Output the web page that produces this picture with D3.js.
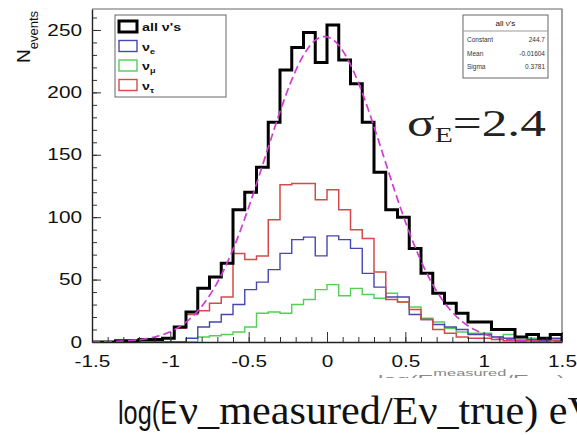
<!DOCTYPE html>
<html>
<head>
<meta charset="utf-8">
<script src="https://cdn.jsdelivr.net/npm/d3@7"></script>
<style>
  body { margin: 0; background: #fff; }
  svg { display: block; }
  text { font-family: "Liberation Sans", Arial, sans-serif; fill: #111; }
  text.serif { font-family: "Liberation Serif", "Times New Roman", serif; }
</style>
</head>
<body>
<svg width="577" height="435"></svg>
<script>
// histogram binning (40 bins of 0.075 from -1.5)
var binStart = -1.5, binWidth = 0.075;

var allNu = [0, 0, 1, 1, 2, 2, 3, 12, 24, 43, 52, 63, 106, 120, 140, 176, 218, 236, 248, 224,
  254, 226, 207, 176, 136, 106, 100, 75, 55, 39, 31, 23, 16, 16, 10, 10, 4, 6, 3, 6];
var nuE = [0, 0, 0, 0, 0, 0, 0, 0, 3, 12, 16, 22, 30, 42, 48, 58, 71, 82, 84, 69,
  85, 82, 75, 55, 44, 36, 36, 22, 18, 14, 12, 10, 6, 6, 4, 3, 1, 2, 1, 3];
var nuMu = [0, 0, 0, 0, 0, 0, 0, 0, 0, 4, 5, 6, 8, 12, 23, 24, 23, 30, 34, 42,
  46, 37, 43, 38, 35, 39, 32, 28, 19, 16, 11, 8, 7, 7, 4, 6, 2, 3, 2, 2];
var nuTau = [0, 0, 1, 1, 2, 2, 3, 11, 22, 25, 31, 36, 71, 66, 69, 98, 126, 127, 127, 114,
  122, 106, 90, 83, 56, 34, 32, 26, 18, 10, 7, 4, 3, 3, 2, 1, 1, 1, 0, 1];

// gaussian fit shown in the stats box
var fitConstant = 244.7, fitMean = -0.01604, fitSigma = 0.3781;

var xTicks = [-1.5, -1, -0.5, 0, 0.5, 1, 1.5];
var yTicks = [0, 50, 100, 150, 200, 250];

var svg = d3.select("svg"),
  marginLeft = 92, marginTop = 9,
  width = 470, height = 333,
  sx = 1.3; // the picture is stretched sideways

var x = d3.scaleLinear().domain([-1.5, 1.5]).range([0, width]);
var y = d3.scaleLinear().domain([0, 266.8]).range([height, 0]);

var g = svg.append("g").attr("transform", "translate(" + marginLeft + "," + marginTop + ")");

g.append("clipPath").attr("id", "plot")
  .append("rect").attr("width", width).attr("height", height);

// frame
g.append("path")
  .attr("d", "M0,0H" + width + "V" + height)
  .attr("fill", "none").attr("stroke", "#666").attr("stroke-width", 1.2);

// histograms as step lines
function steps(values) {
  var pts = [[binStart, 0]];
  values.forEach(function (v, i) { pts.push([binStart + i * binWidth, v]); });
  pts.push([binStart + values.length * binWidth, values[values.length - 1]]);
  pts.push([binStart + values.length * binWidth, 0]);
  return pts;
}
var step = d3.line()
  .x(function (d) { return x(d[0]); })
  .y(function (d) { return y(d[1]); })
  .curve(d3.curveStepAfter);

var series = [
  { v: nuMu, c: "#52d052", w: 1.4 },
  { v: nuE, c: "#4646b4", w: 1.4 },
  { v: nuTau, c: "#d44a4a", w: 1.5 },
  { v: allNu, c: "#000", w: 3 }
];
var hist = g.append("g").attr("clip-path", "url(#plot)");
series.forEach(function (s) {
  hist.append("path")
    .attr("d", step(steps(s.v)))
    .attr("fill", "none")
    .attr("stroke", s.c)
    .attr("stroke-width", s.w);
});

// fit curve
var fitX = d3.range(-1.5, 1.5001, 0.01);
hist.append("path")
  .attr("d", d3.line()
    .x(function (d) { return x(d); })
    .y(function (d) {
      return y(fitConstant * Math.exp(-0.5 * Math.pow((d - fitMean) / fitSigma, 2)));
    })(fitX))
  .attr("fill", "none")
  .attr("stroke", "#d03cd0")
  .attr("stroke-width", 1.7)
  .attr("stroke-dasharray", "8,4");

// axes
var xMinor = d3.range(-15, 16).map(function (d) { return d / 10; });
var yMinor = d3.range(0, 261, 10);

g.append("g").attr("transform", "translate(0," + height + ")")
  .call(d3.axisBottom(x).tickValues(xMinor).tickSize(-5).tickSizeOuter(0).tickFormat(""))
  .call(function (a) { a.select(".domain").remove(); });
g.append("g").attr("transform", "translate(0," + height + ")")
  .call(d3.axisBottom(x).tickValues(xTicks).tickSize(-10).tickSizeOuter(0).tickPadding(14)
    .tickFormat(function (d) { return d; }))
  .call(function (a) {
    a.select(".domain").attr("stroke", "#222").attr("stroke-width", 1.4);
    a.selectAll(".tick text")
      .attr("font-size", 16)
      .attr("transform", "scale(" + sx + ",1)");
  });

g.append("g")
  .call(d3.axisLeft(y).tickValues(yMinor).tickSize(-5).tickSizeOuter(0).tickFormat(""))
  .call(function (a) { a.select(".domain").remove(); });
g.append("g")
  .call(d3.axisLeft(y).tickValues(yTicks).tickSize(-9).tickSizeOuter(0).tickPadding(10))
  .call(function (a) {
    a.select(".domain").attr("stroke", "#222").attr("stroke-width", 1.4);
    a.selectAll(".tick text")
      .attr("font-size", 16)
      .attr("x", -10 / sx)
      .attr("transform", "scale(" + sx + ",1)");
  });
g.selectAll(".tick line").attr("stroke", "#333");
g.selectAll(".tick text").style("fill", "#111");

// y title
var yt = svg.append("text")
  .attr("transform", "translate(30,63) rotate(-90)")
  .attr("font-size", 19);
yt.append("tspan").text("N");
yt.append("tspan").attr("font-size", 13).attr("dy", 8).text("events");

// legend
var lg = svg.append("g").attr("transform", "translate(115,15)");
lg.append("rect").attr("width", 111).attr("height", 82)
  .attr("fill", "#fff").attr("stroke", "#666").attr("stroke-width", 1);
var legendItems = [
  { name: "all ν's", sub: "", c: "#000", w: 3 },
  { name: "ν", sub: "e", c: "#4646b4", w: 1.4 },
  { name: "ν", sub: "μ", c: "#52d052", w: 1.4 },
  { name: "ν", sub: "τ", c: "#d44a4a", w: 1.4 }
];
legendItems.forEach(function (d, i) {
  var yy = 6 + i * 19.5;
  lg.append("rect").attr("x", 4).attr("y", yy).attr("width", 18).attr("height", 11)
    .attr("fill", "#fff").attr("stroke", d.c).attr("stroke-width", d.w);
  var t = lg.append("text")
    .attr("transform", "translate(27," + (yy + 10) + ") scale(" + sx + ",1)")
    .attr("font-size", 11).attr("font-weight", "bold").text(d.name);
  if (d.sub) t.append("tspan").attr("font-size", 7).attr("dy", 3).text(d.sub);
});

// stats box
var sb = svg.append("g").attr("transform", "translate(463,15)");
sb.append("rect").attr("width", 85).attr("height", 63)
  .attr("fill", "#fff").attr("stroke", "#666").attr("stroke-width", 1);
sb.append("line").attr("x1", 0).attr("x2", 85).attr("y1", 16).attr("y2", 16)
  .attr("stroke", "#999");
sb.append("text").attr("x", 42.5).attr("y", 11).attr("text-anchor", "middle")
  .attr("font-size", 8).text("all ν's");
var stats = [["Constant", fitConstant.toFixed(1)], ["Mean", fitMean.toString()],
  ["Sigma", fitSigma.toString()]];
stats.forEach(function (d, i) {
  var yy = 27 + i * 13.5;
  sb.append("text").attr("x", 4).attr("y", yy).attr("font-size", 6.5).style("fill", "#333").text(d[0]);
  sb.append("text").attr("x", 82).attr("y", yy).attr("font-size", 6.5).style("fill", "#333")
    .attr("text-anchor", "end").text(d[1]);
});

// resolution annotation
var sg = svg.append("text").attr("class", "serif")
  .attr("transform", "translate(407,136) scale(1.35,1)")
  .attr("font-size", 38).style("fill", "#222");
sg.append("tspan").text("σ");
sg.append("tspan").attr("font-size", 22).attr("dy", 6).text("E");
sg.append("tspan").attr("dy", -6).text("=2.4");

// original axis title, only its top edge peeks out above the big one
svg.append("clipPath").attr("id", "oldTitle")
  .append("rect").attr("x", 300).attr("y", 360).attr("width", 277).attr("height", 18);
var ot = svg.append("text")
  .attr("clip-path", "url(#oldTitle)")
  .attr("x", 378).attr("y", 384)
  .attr("font-size", 13).style("fill", "#888")
  .attr("textLength", 187).attr("lengthAdjust", "spacingAndGlyphs");
ot.append("tspan").text("log(E");
ot.append("tspan").attr("font-size", 9).attr("dy", -8).text("measured");
ot.append("tspan").attr("dy", 8).text("/E");
ot.append("tspan").attr("font-size", 9).attr("dy", 2).text("true");
ot.append("tspan").attr("dy", -2).text(")");

// x title
svg.append("text")
  .attr("x", 118).attr("y", 424)
  .attr("font-size", 34)
  .attr("textLength", 59).attr("lengthAdjust", "spacingAndGlyphs")
  .text("log(E");
svg.append("text").attr("class", "serif")
  .attr("x", 179).attr("y", 424)
  .attr("font-size", 40)
  .attr("textLength", 419).attr("lengthAdjust", "spacingAndGlyphs")
  .text("ν_measured/Eν_true) eV");
</script>
</body>
</html>
